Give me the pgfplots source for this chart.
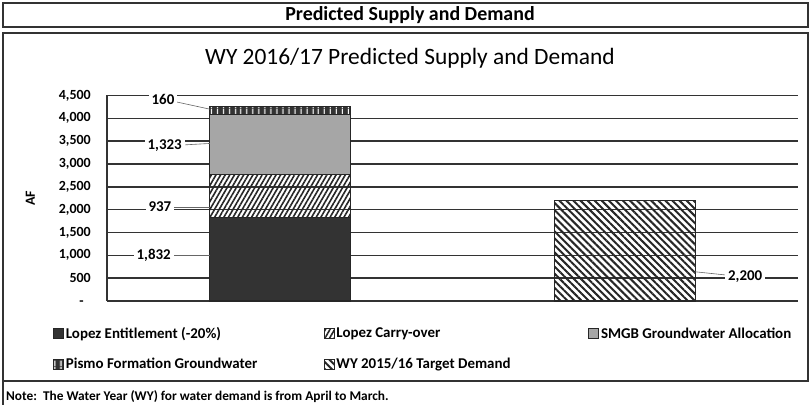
\documentclass[border=0pt]{standalone}
\usepackage{fontspec}
\setmainfont{Carlito}
\usepackage{pgfplots}
\pgfplotsset{compat=1.18}
\usetikzlibrary{patterns.meta}

\begin{document}
\begin{tikzpicture}
\useasboundingbox (0,0) rectangle (811bp,405bp);
\fill[white] (0,0) rectangle (811bp,405bp);
% frames
\draw[black!80, line width=1.8bp] (3bp,378bp) rectangle (808bp,402bp);
\node[font=\bfseries\fontsize{20}{20}\selectfont] at (410bp,390bp) {Predicted Supply and Demand};
\draw[black!80, line width=1.8bp] (3bp,24bp) rectangle (808bp,372bp);
\draw[black!80, line width=1.5bp] (3bp,0bp) -- (3bp,24bp);
\node[font=\bfseries\fontsize{13.4}{13}\selectfont, anchor=west, inner sep=0pt] at (6bp,8bp) {Note:\ \ The Water Year (WY) for water demand is from April to March.};
\node[font=\fontsize{23.5}{23}\selectfont] at (410bp,347bp) {WY 2016/17 Predicted Supply and Demand};

\begin{axis}[
  at={(107bp,104bp)}, anchor=south west, scale only axis,
  width=691bp, height=205.5bp,
  xmin=-0.5, xmax=1.5, ymin=0, ymax=4500,
  ybar stacked, bar width=141bp,
  legend image code/.code={\draw[#1, line width=0.6bp] (0bp,-5bp) rectangle (10bp,5bp);},
  clip=false,
  axis lines*=left,
  axis line style={-, black!80, line width=1.4bp},
  xtick=\empty,
  ytick={0,500,...,4500},
  yticklabels={{-\phantom{0}},{500},{1,000},{1,500},{2,000},{2,500},{3,000},{3,500},{4,000},{4,500}},
  major tick length=0pt,
  ytick style={draw=none},
  yticklabel style={font=\bfseries\fontsize{14}{14}\selectfont, inner sep=0pt, anchor=east},
  yticklabel shift=16bp,
  ymajorgrids,
  grid style={black!80, line width=1.4bp},
  ylabel={AF},
  every axis y label/.style={at={(axis description cs:-0.111,0.5)}, rotate=90, anchor=center, font=\bfseries\fontsize{14}{14}\selectfont},
  legend columns=3,
  legend cell align=left,
  legend style={at={(axis description cs:-0.078,-0.118)}, anchor=north west, draw=none, fill=none,
    inner sep=0pt, row sep=14bp,
    font=\bfseries\fontsize{15}{16}\selectfont,
    /tikz/every even column/.append style={column sep=0pt}},
]
\addplot[fill=black!80, draw=black!85, line width=1.2bp] coordinates {(0,1832) (1,0)};
\addplot[draw=black!85, line width=1.2bp, pattern={Lines[angle=60,distance=4bp,line width=1.6bp]}, pattern color=black!85] coordinates {(0,937) (1,0)};
\addplot[fill=black!35, draw=black!85, line width=1.2bp] coordinates {(0,1323) (1,0)};
\addplot[fill=black!80, draw=black!85, line width=1.2bp, postaction={pattern={Lines[angle=90,distance=6bp,line width=1.2bp]}, pattern color=white}] coordinates {(0,160) (1,0)};
\addplot[draw=black!85, line width=1.2bp, pattern={Lines[angle=-45,distance=5bp,line width=2bp]}, pattern color=black!85] coordinates {(0,0) (1,2200)};
\addlegendentry{\makebox[256bp][l]{Lopez Entitlement (-20\%)}}
\addlegendentry{\makebox[250bp][l]{Lopez Carry-over}}
\addlegendentry{\makebox[200bp][l]{SMGB Groundwater Allocation}}
\addlegendentry{\makebox[256bp][l]{Pismo Formation Groundwater}}
\addlegendentry{\makebox[250bp][l]{WY 2015/16 Target Demand}}

\coordinate (L1) at (axis cs:-0.338,4423);
\coordinate (L2) at (axis cs:-0.333,3394);
\coordinate (L3) at (axis cs:-0.347,2058);
\coordinate (L4) at (axis cs:-0.365,1007);
\coordinate (L5) at (axis cs:1.347,525);
\coordinate (E1) at (axis cs:-0.202,4200);
\coordinate (E2) at (axis cs:-0.202,3450);
\coordinate (E3) at (axis cs:-0.202,2058);
\coordinate (E4) at (axis cs:-0.202,1007);
\coordinate (E5) at (axis cs:1.202,640);
\end{axis}
\foreach \i in {1,...,5} {\draw[black!60, line width=0.6bp] (L\i) -- (E\i);}
\tikzset{lbl/.style={font=\bfseries\fontsize{15}{15}\selectfont, fill=white, inner sep=3bp}}
\node[lbl] at (L1) {160};
\node[lbl] at (L2) {1,323};
\node[lbl] at (L3) {937};
\node[lbl] at (L4) {1,832};
\node[lbl] at (L5) {2,200};
\end{tikzpicture}
\end{document}
